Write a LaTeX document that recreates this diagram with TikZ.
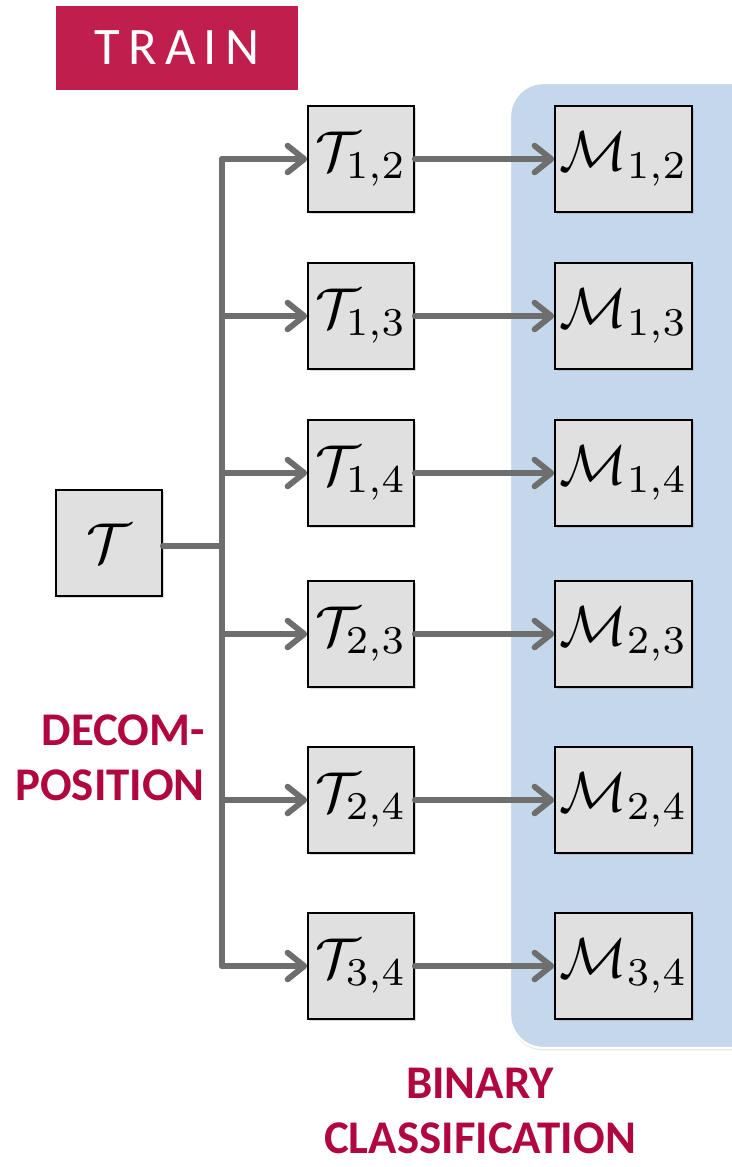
\documentclass[tikz,border=0pt]{standalone}
\usepackage{graphicx}
\usepackage[no-math]{fontspec}
\setmainfont{Carlito}
\usetikzlibrary{arrows.meta,shadows}

\definecolor{trainred}{HTML}{C01E4D}
\definecolor{labelred}{HTML}{B0073F}
\definecolor{linkgray}{HTML}{6E6E6E}
\definecolor{boxgray}{HTML}{E0E0E0}
\definecolor{panelblue}{HTML}{C5D7EA}

\newcommand{\bigmath}[1]{\scalebox{4.8}{$#1$}}

\begin{document}
\begin{tikzpicture}[x=0.03cm, y=-0.03cm,
    box/.style={draw=black, line width=1.4pt, fill=boxgray, inner sep=0pt,
      minimum width=3.18cm, minimum height=3.18cm,
      drop shadow={shadow xshift=1.5pt, shadow yshift=-2pt, opacity=0.3}},
    mbox/.style={box, minimum width=4.11cm},
    link/.style={draw=linkgray, line width=5pt, line cap=round, line join=round},
    arr/.style={link, -{Straight Barb[length=5mm, width=8mm, line cap=round, line join=round]}},
    caption/.style={text=labelred, font=\fontsize{40}{47}\selectfont\bfseries, inner sep=0pt}]
    \useasboundingbox (0,0) rectangle (732,1167);
    \clip (0,0) rectangle (732,1167);

    % Panel behind the classifiers
    \fill[panelblue, draw=white, line width=2pt, rounded corners=1cm,
      drop shadow={shadow xshift=0pt, shadow yshift=-2pt, opacity=0.2}] (510,83) rectangle (790,1048);

    % Title
    \node[fill=trainred, minimum width=7.26cm, minimum height=2.52cm, inner sep=0pt,
      text=white, font=\fontsize{45}{54}\selectfont] (train) at (177,48)
      {T\hspace{7pt}R\hspace{7pt}A\hspace{7pt}I\hspace{7pt}N};

    % Full task and the bus
    \node[box] (T) at (109,543) {\bigmath{\mathcal{T}}};
    \coordinate (bus) at (222,546);
    \draw[link] (T.east |- bus) -- (bus);

    % Pairwise tasks and binary models
    \foreach \i/\j/\y in {1/2/159, 1/3/316, 1/4/473, 2/3/634, 2/4/800, 3/4/966} {
      \node[box] (T\i\j) at (361,\y) {\bigmath{\mathcal{T}_{\i,\j}}};
      \node[mbox] (M\i\j) at (623.5,\y) {\bigmath{\mathcal{M}_{\i,\j}}};
      \draw[arr] (T\i\j -| bus) -- (T\i\j);
      \draw[arr] (T\i\j) -- (M\i\j);
    }
    \draw[link] (T12 -| bus) -- (T34 -| bus);

    % Labels
    \node[caption, anchor=east, align=right] (decomp) at (205,758) {DECOM-\\POSITION};
    \node[caption, align=center] (binary) at (480,1111) {BINARY\\CLASSIFICATION};
\end{tikzpicture}
\end{document}
